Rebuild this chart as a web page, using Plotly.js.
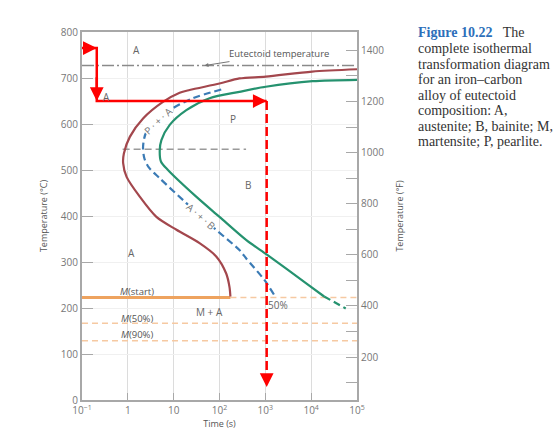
<!DOCTYPE html>
<html><head><meta charset="utf-8">
<script src="https://cdn.plot.ly/plotly-3.0.1.min.js"></script>
<style>html,body{margin:0;padding:0;background:#fff}#chart{width:560px;height:439px}</style>
</head><body><div id="chart"></div>
<script>
// ---- data (time in s, temperature in °C) ----
const startTime = [100000,10500,1020,272,100,22.3,13.5,5.85,2.15,1.105,0.82,0.79,0.94,1.82,4.2,11.5,36.7,84.8,140,165,173];
const startTemp = [719,714,703,699,688,674,668,648,612,572,536,515,485,442,398,370,341,312,275,246,225];
const endTime = [100000,10700,1020,272,60.7,18.9,8.2,5.4,4.97,5.3,7.5,31,100,380,1120,7670,19200];
const endTemp = [696,693,681,670,656,630,598,565,543,518,500,442,398,348,315,254,225];
const endTailTime = [19200,56800];
const endTailTemp = [225,199];
const halfTime = [109,26.3,8.2,2.55,2.15,2.3,2.9,4.97,18.9,77.6,272,380,955,1570];
const halfTemp = [675,656,630,583,551,525,505,482,428,373,326,308,261,228];
const redPathTime = [0.1,0.21,0.21,1070];
const redPathTemp = [765,765,650,650];
const redDropTime = [1070,1070];
const redDropTemp = [650,28];
const eutectoidTemp = 727;
const pbDividerTime = [0.77,380];
const pbDividerTemp = 545;
const msTemp = 223, msEndTime = 173;
const m50Temp = 167, m90Temp = 129;
const tmin = 0.1, tmax = 100000;
const xTickVals = [0.1,1,10,100,1000,10000,100000];
const xTickText = ['10<sup>−1</sup>','1','10','10<sup>2</sup>','10<sup>3</sup>','10<sup>4</sup>','10<sup>5</sup>'];
const yTickVals = [0,100,200,300,400,500,600,700,800];
const fTickVals = [100,200,300,400,500,600,700,800,900,1000,1100,1200,1300,1400];
const regionLabels = ['A','A','P','B','A','M + A','50%'];
const regionTime = [1.55,0.34,195,415,1.2,60,1900];
const regionTemp = [761,658,610,467,319,192,206];
const mLabels = ['<i>M</i>(start)','<i>M</i>(50%)','<i>M</i>(90%)'];
const mLabelTemp = [236,178,143];
const mLabelTime = [1.55,1.55,1.55];
const mixLabels = ['P · + · A','A · + · B'];
const mixTime = [4.5,38.6];
const mixTemp = [607,400];
const mixAngle = [-43,41];
const caption = ['<b>Figure 10.22</b>','complete isothermal','transformation diagram','for an iron–carbon','alloy of eutectoid','composition: A,','austenite; B, bainite; M,','martensite; P, pearlite.'];

const L = Math.log10;
const brown = '#a3474d', green = '#25926f', blue = '#3b7bb5', red = '#ff0000', orange = '#eea35f', lorange = '#f6c9a2';

const traces = [
  {x:[tmin,tmax], y:[eutectoidTemp,eutectoidTemp], mode:'lines', line:{color:'#8a8a8a', width:1.5, dash:'12px,3px,2px,3px'}},
  {x:pbDividerTime, y:[pbDividerTemp,pbDividerTemp], mode:'lines', line:{color:'#9a9a9a', width:1.5, dash:'7px,4px'}},
  {x:[msEndTime,tmax], y:[msTemp,msTemp], mode:'lines', line:{color:lorange, width:1.5, dash:'6px,4px'}},
  {x:[tmin,tmax], y:[m50Temp,m50Temp], mode:'lines', line:{color:lorange, width:1.5, dash:'6px,4px'}},
  {x:[tmin,tmax], y:[m90Temp,m90Temp], mode:'lines', line:{color:lorange, width:1.5, dash:'6px,4px'}},
  {x:[tmin,msEndTime], y:[msTemp,msTemp], mode:'lines', line:{color:orange, width:3}},
  {x:startTime, y:startTemp, mode:'lines', line:{color:brown, width:2.2, shape:'spline', smoothing:0.8}},
  {x:endTime, y:endTemp, mode:'lines', line:{color:green, width:2.2, shape:'spline', smoothing:0.8}},
  {x:endTailTime, y:endTailTemp, mode:'lines', line:{color:green, width:2.2, dash:'7px,4px'}},
  {x:halfTime, y:halfTemp, mode:'lines', line:{color:blue, width:2.2, dash:'7px,4px', shape:'spline', smoothing:0.8}},
  {x:redPathTime, y:redPathTemp, mode:'lines', line:{color:red, width:2.5}},
  {x:redDropTime, y:redDropTemp, mode:'lines', line:{color:red, width:2.5, dash:'9px,4px'}},
  {x:[1], y:[32], yaxis:'y2', mode:'markers', marker:{opacity:0}, hoverinfo:'skip'}
];
traces.forEach(t=>{t.showlegend=false; if(!t.hoverinfo) t.hoverinfo='skip';});

const ann = [];
const txtFont = {family:'Open Sans, Liberation Sans, sans-serif', size:10, color:'#666'};
regionLabels.forEach((s,i)=>ann.push({x:L(regionTime[i]), y:regionTemp[i], text:s, showarrow:false, font:txtFont}));
mLabels.forEach((s,i)=>ann.push({x:L(mLabelTime[i]), y:mLabelTemp[i], text:s, showarrow:false, font:{...txtFont, size:9.5, color:'#555'}}));
mixLabels.forEach((s,i)=>ann.push({x:L(mixTime[i]), y:mixTemp[i], text:s, showarrow:false, textangle:mixAngle[i], bgcolor:'#fff', borderpad:0, font:{...txtFont, size:10, color:'#777'}}));
ann.push({x:L(47), y:eutectoidTemp, text:'Eutectoid temperature', showarrow:true, arrowhead:2, arrowsize:0.8, arrowwidth:1, arrowcolor:'#777', ax:75, ay:-12, font:{...txtFont, size:9.5, color:'#555'}});
// red arrowheads
const arr = (x,y,ax,ay)=>ann.push({x:L(x), y:y, ax:L(ax), ay:ay, axref:'x', ayref:'y', text:'', showarrow:true, arrowhead:2, arrowsize:1.1, arrowwidth:2.5, arrowcolor:red});
arr(redPathTime[1], redPathTemp[1], redPathTime[0], redPathTemp[0]);
arr(redPathTime[2], redPathTemp[2], redPathTime[1], redPathTemp[1]-60);
arr(redPathTime[3], redPathTemp[3], redPathTime[3]/2, redPathTemp[3]);
arr(redDropTime[1], redDropTemp[1], redDropTime[1], redDropTemp[1]+25);
// caption
caption.forEach((s,i)=>ann.push({xref:'paper', yref:'paper', x:(416-82)/275, y:(400-(33+15.5*i))/368, xanchor:'left', yanchor:'middle', text: i===0 ? '<span style="color:#2d6fba">'+s+'</span>   The' : s, showarrow:false, align:'left', font:{family:'Liberation Serif, Times New Roman, serif', size:14, color:'#333'}}));

const axLine = '#a8a8a8';
const layout = {
  width:560, height:439,
  margin:{l:82, r:203, t:32, b:39},
  paper_bgcolor:'#fff', plot_bgcolor:'#fff',
  showlegend:false,
  xaxis:{type:'log', range:[-1,5], tickvals:xTickVals, ticktext:xTickText, ticks:'inside', ticklen:7, tickcolor:axLine, showgrid:true, gridcolor:'#dcdcdc', gridwidth:1, showline:true, linecolor:axLine, linewidth:2, mirror:true, zeroline:false, tickfont:{family:'Open Sans, sans-serif', size:10, color:'#777'}, title:{text:'Time (s)', font:{family:'Open Sans, sans-serif', size:9, color:'#555'}, standoff:4}, automargin:false},
  yaxis:{range:[0,800], tickvals:yTickVals, ticks:'inside', ticklen:11, tickcolor:axLine, showgrid:true, gridcolor:'#f0f0f0', showline:true, linecolor:axLine, linewidth:2, mirror:true, zeroline:false, tickfont:{family:'Open Sans, sans-serif', size:10, color:'#777'}, title:{text:'Temperature (°C)', font:{family:'Open Sans, sans-serif', size:9, color:'#555'}, standoff:12}, automargin:false},
  yaxis2:{overlaying:'y', side:'right', range:[32,1472], tickvals:fTickVals, ticktext:fTickVals.map(v=>v%200===0?String(v):''), ticks:'inside', ticklen:11, tickcolor:axLine, showgrid:false, showline:true, linecolor:axLine, linewidth:2, zeroline:false, tickfont:{family:'Open Sans, sans-serif', size:10, color:'#777'}, title:{text:'Temperature (°F)', font:{family:'Open Sans, sans-serif', size:9, color:'#555'}, standoff:14}, automargin:false},
  annotations:ann
};
Plotly.newPlot('chart', traces, layout, {displayModeBar:false, staticPlot:true});
</script></body></html>
